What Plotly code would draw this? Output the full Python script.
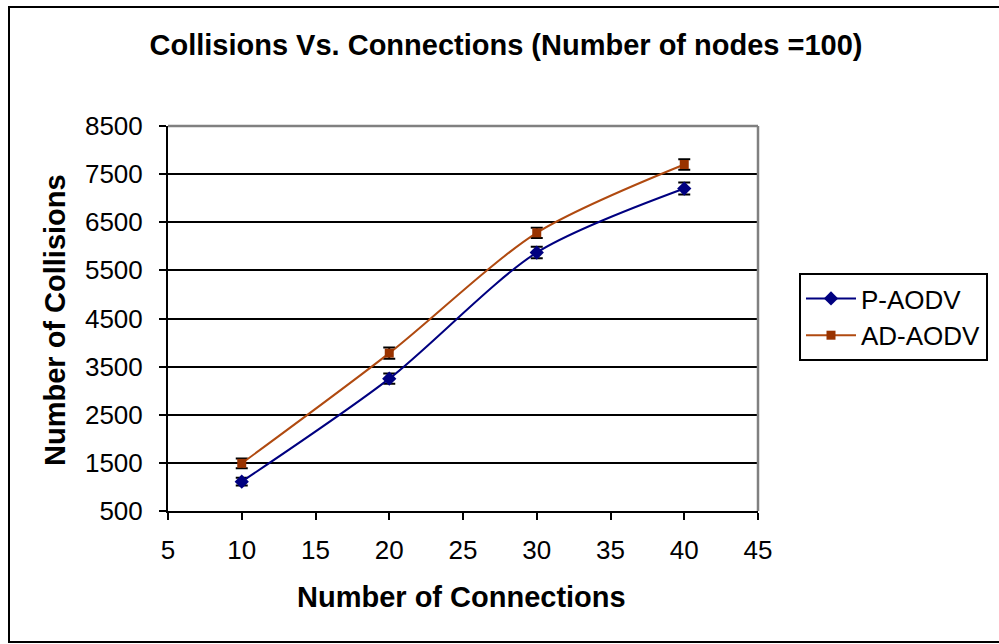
import plotly.graph_objects as go

# ---- data ----
connections = [10, 20, 30, 40]
p_aodv = [1110, 3250, 5870, 7200]
p_aodv_err = [80, 105, 120, 125]
ad_aodv = [1490, 3780, 6280, 7700]
ad_aodv_err = [100, 115, 105, 110]

series_names = ["P-AODV", "AD-AODV"]
title_text = "Collisions Vs. Connections (Number of nodes =100)"
x_title = "Number of Connections"
y_title = "Number of Collisions"

W, H = 999, 644
L, R, T, B = 168, 758, 126, 511  # plot area in px


def px_x(px):
    return (px - L) / (R - L)


def px_y(py):
    return (B - py) / (B - T)


FONT = "Liberation Sans, Arial, sans-serif"

fig = go.Figure()
fig.add_trace(go.Scatter(
    x=connections, y=p_aodv, name=series_names[0], mode="lines+markers",
    line=dict(color="#000080", width=2, shape="spline", smoothing=0.8),
    marker=dict(symbol="diamond", size=11, color="#000080"),
    error_y=dict(type="data", array=p_aodv_err, visible=True, color="black",
                 thickness=2, width=6),
))
fig.add_trace(go.Scatter(
    x=connections, y=ad_aodv, name=series_names[1], mode="lines+markers",
    line=dict(color="#B04A10", width=2, shape="spline", smoothing=0.8),
    marker=dict(symbol="square", size=9, color="#993300"),
    error_y=dict(type="data", array=ad_aodv_err, visible=True, color="black",
                 thickness=2, width=6),
))

fig.update_layout(
    width=W, height=H,
    margin=dict(l=L, r=W - R, t=T, b=H - B, autoexpand=False),
    paper_bgcolor="white", plot_bgcolor="white",
    font=dict(family=FONT, size=26, color="black"),
    title=dict(text="<b>" + title_text + "</b>", font=dict(size=29, family=FONT),
               x=px_x(506), xref="paper", xanchor="center",
               y=1 - 45 / H, yref="container", yanchor="middle"),
    showlegend=True,
    legend=dict(x=px_x(799), y=px_y(273), xanchor="left", yanchor="top",
                bordercolor="black", borderwidth=2, bgcolor="white",
                font=dict(size=26, family=FONT), itemwidth=50,
                tracegroupgap=0),
    xaxis=dict(range=[5, 45], tick0=5, dtick=5, showgrid=False, zeroline=False,
               showline=True, linecolor="black", linewidth=2,
               ticks="outside", ticklen=7, tickwidth=2, tickcolor="black",
               ticklabelstandoff=8,
               tickfont=dict(size=26, family=FONT)),
    yaxis=dict(range=[500, 8500], tick0=500, dtick=1000, showgrid=True,
               gridcolor="black", gridwidth=1.5, zeroline=False,
               showline=True, linecolor="black", linewidth=2,
               ticks="outside", ticklen=7, tickwidth=2, tickcolor="black",
               ticklabelstandoff=11,
               tickfont=dict(size=26, family=FONT)),
    annotations=[
        dict(text="<b>" + x_title + "</b>", xref="paper", yref="paper",
             x=px_x(461), y=px_y(597), xanchor="center", yanchor="middle",
             showarrow=False, font=dict(size=29, family=FONT)),
        dict(text="<b>" + y_title + "</b>", xref="paper", yref="paper",
             x=px_x(55), y=px_y(320), xanchor="center", yanchor="middle",
             textangle=-90, showarrow=False, font=dict(size=29, family=FONT)),
    ],
    shapes=[
        # outer frame
        dict(type="rect", xref="paper", yref="paper",
             x0=px_x(9), y0=px_y(642), x1=px_x(1010), y1=px_y(7),
             line=dict(color="black", width=2), layer="below"),
        # plot area gray top/right border
        dict(type="line", xref="paper", yref="paper", x0=0, x1=1, y0=1, y1=1,
             line=dict(color="#808080", width=2.5), layer="above"),
        dict(type="line", xref="paper", yref="paper", x0=1, x1=1, y0=0, y1=1,
             line=dict(color="#808080", width=2.5), layer="above"),
    ],
)

fig.write_html("out.html", config={"displayModeBar": False},
               post_script="document.body.style.margin='0';")
